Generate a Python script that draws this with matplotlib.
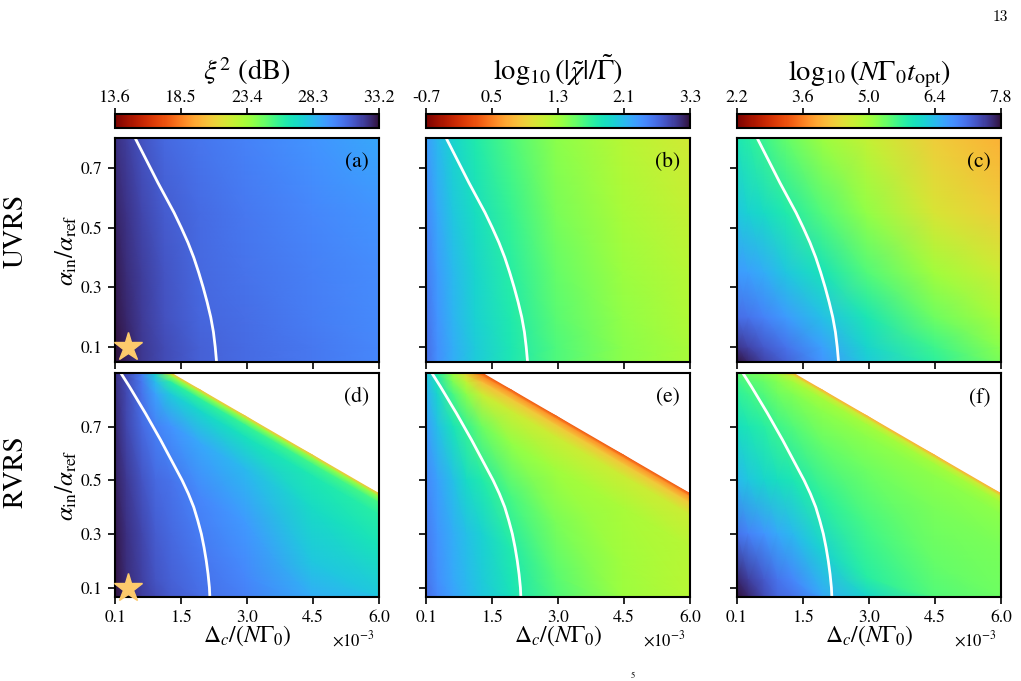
import numpy as np
import matplotlib.pyplot as plt
from matplotlib.colors import Normalize
from matplotlib.cm import ScalarMappable

plt.rcParams['font.family'] = 'STIXGeneral'
plt.rcParams['mathtext.fontset'] = 'stix'

# ---- axes -----------------------------------------------------------------
x_lim = (0.1, 6.0)
x_tick_labels = ['0.1', '1.5', '3.0', '4.5', '6.0']
y_ticks = [0.1, 0.3, 0.5, 0.7]
ylim_uvrs = (0.05, 0.8)
ylim_rvrs = (0.065, 0.9)

# ---- colour scales --------------------------------------------------------
cbar_titles = [r'$\xi^2$ (dB)',
               r'$\log_{10}(|\tilde{\chi}|/\tilde{\Gamma})$',
               r'$\log_{10}(N\Gamma_0 t_{\rm opt})$']
cbar_ranges = [(13.6, 33.2), (-0.7, 3.3), (2.2, 7.8)]
cbar_tick_labels = [['13.6', '18.5', '23.4', '28.3', '33.2'],
                    ['-0.7', '0.5', '1.3', '2.1', '3.3'],
                    ['2.2', '3.6', '5.0', '6.4', '7.8']]

# ---- UVRS (top row): values on an x / y node grid, rows = y ascending ----
uvrs_x = [0.1, 0.35, 0.7, 1.2, 2.0, 3.0, 4.5, 6.0]
uvrs_y = [0.05, 0.1, 0.2, 0.35, 0.55, 0.8]

xi2_uvrs = [
    [33.2, 32.8, 32.2, 31.6, 31.0, 30.7, 30.3, 29.9],
    [33.2, 32.8, 32.2, 31.6, 31.0, 30.7, 30.3, 29.9],
    [33.0, 32.6, 32.1, 31.5, 30.9, 30.6, 30.2, 29.8],
    [32.9, 32.5, 32.0, 31.4, 30.8, 30.5, 30.1, 29.7],
    [32.7, 32.3, 31.8, 31.2, 30.7, 30.3, 29.9, 29.5],
    [32.4, 32.0, 31.4, 30.8, 30.4, 30.0, 29.5, 28.9],
]
chi_uvrs = [
    [2.78, 2.58, 2.38, 2.18, 1.94, 1.66, 1.42, 1.26],
    [2.78, 2.58, 2.38, 2.18, 1.94, 1.66, 1.42, 1.26],
    [2.74, 2.54, 2.34, 2.14, 1.90, 1.62, 1.38, 1.22],
    [2.70, 2.50, 2.30, 2.10, 1.86, 1.58, 1.34, 1.18],
    [2.62, 2.42, 2.22, 2.02, 1.78, 1.50, 1.26, 1.10],
    [2.50, 2.30, 2.10, 1.90, 1.66, 1.42, 1.18, 1.02],
]
topt_uvrs = [
    [7.80, 7.63, 7.41, 7.18, 6.74, 6.23, 5.73, 5.28],
    [7.52, 7.41, 7.24, 7.02, 6.62, 6.12, 5.62, 5.17],
    [7.07, 7.02, 6.90, 6.68, 6.34, 5.90, 5.34, 4.94],
    [6.68, 6.62, 6.51, 6.29, 5.95, 5.50, 5.00, 4.66],
    [6.29, 6.18, 6.06, 5.84, 5.50, 5.11, 4.55, 4.27],
    [5.90, 5.78, 5.62, 5.39, 5.06, 4.72, 4.27, 3.99],
]

# ---- RVRS (bottom row): values at depth below the stability edge ----------
rvrs_x = [0.1, 0.35, 0.7, 1.0, 1.35, 2.0, 3.0, 4.5, 6.0]
rvrs_depth = [0.0, 0.012, 0.035, 0.08, 0.2, 0.4, 0.6, 0.77, 0.835]

xi2_rvrs = [
    [32.4, 31.6, 30.0, 27.3, 20.5, 20.5, 20.5, 20.5, 20.5],
    [32.4, 31.6, 30.1, 27.7, 23.8, 23.8, 23.8, 23.8, 23.8],
    [32.4, 31.6, 30.3, 28.3, 26.1, 26.0, 25.8, 25.6, 25.4],
    [32.5, 31.7, 30.5, 29.1, 27.7, 27.3, 26.9, 26.5, 26.1],
    [32.6, 31.8, 30.8, 30.1, 29.5, 28.9, 28.3, 27.1, 26.7],
    [32.8, 32.2, 31.4, 30.8, 30.5, 29.9, 29.3, 27.9, 27.9],
    [33.0, 32.4, 31.8, 31.2, 30.8, 30.3, 29.9, 28.7, 28.1],
    [33.1, 32.5, 31.9, 31.4, 31.0, 30.6, 30.1, 28.7, 28.1],
    [33.2, 32.6, 32.0, 31.6, 31.2, 30.8, 30.1, 28.7, 28.1],
]
chi_rvrs = [
    [2.22, 1.86, 1.30, 0.82, 0.10, 0.10, 0.10, 0.10, 0.10],
    [2.26, 1.90, 1.38, 0.94, 0.34, 0.42, 0.42, 0.42, 0.42],
    [2.30, 1.98, 1.50, 1.14, 0.66, 0.74, 0.74, 0.74, 0.74],
    [2.38, 2.10, 1.70, 1.42, 1.06, 1.06, 1.06, 1.06, 1.06],
    [2.50, 2.26, 1.98, 1.78, 1.54, 1.38, 1.30, 1.26, 1.18],
    [2.62, 2.46, 2.26, 2.06, 1.90, 1.70, 1.50, 1.30, 1.18],
    [2.70, 2.54, 2.38, 2.26, 2.14, 1.90, 1.62, 1.34, 1.18],
    [2.74, 2.58, 2.42, 2.30, 2.18, 1.98, 1.66, 1.34, 1.18],
    [2.78, 2.62, 2.46, 2.34, 2.22, 2.02, 1.66, 1.34, 1.18],
]
topt_rvrs = [
    [5.45, 5.34, 5.22, 5.00, 3.99, 3.99, 3.99, 3.99, 3.99],
    [5.50, 5.39, 5.28, 5.11, 4.66, 4.66, 4.66, 4.66, 4.66],
    [5.62, 5.50, 5.39, 5.22, 5.00, 5.00, 5.00, 5.00, 5.00],
    [5.73, 5.62, 5.50, 5.34, 5.22, 5.17, 5.17, 5.17, 5.17],
    [6.01, 5.90, 5.78, 5.62, 5.50, 5.39, 5.34, 5.28, 5.28],
    [6.40, 6.29, 6.12, 6.01, 5.90, 5.73, 5.56, 5.39, 5.34],
    [7.02, 6.90, 6.74, 6.57, 6.40, 6.18, 5.78, 5.50, 5.34],
    [7.63, 7.46, 7.24, 7.02, 6.85, 6.57, 6.12, 5.56, 5.34],
    [7.80, 7.63, 7.35, 7.13, 7.02, 6.68, 6.12, 5.62, 5.34],
]

# stability edge of RVRS (white region above it)
edge_x = [1.35, 6.0]
edge_y = [0.9, 0.45]

# white contour lines
contour_uvrs_y = [0.8, 0.75, 0.7, 0.65, 0.6, 0.55, 0.5, 0.45, 0.4, 0.35,
                  0.3, 0.25, 0.2, 0.15, 0.1, 0.05]
contour_uvrs_x = [0.55, 0.72, 0.89, 1.06, 1.24, 1.42, 1.58, 1.73, 1.86, 1.97,
                  2.07, 2.16, 2.24, 2.30, 2.34, 2.37]
contour_rvrs_y = [0.9, 0.85, 0.8, 0.75, 0.7, 0.65, 0.6, 0.55, 0.5, 0.45,
                  0.4, 0.35, 0.3, 0.25, 0.2, 0.15, 0.1, 0.065]
contour_rvrs_x = [0.23, 0.42, 0.6, 0.78, 0.95, 1.12, 1.28, 1.44, 1.6, 1.74,
                  1.86, 1.95, 2.03, 2.09, 2.14, 2.18, 2.21, 2.22]

# marked working point
star_x, star_y = 0.4, 0.1

panel_letters = [['(a)', '(b)', '(c)'], ['(d)', '(e)', '(f)']]
row_names = ['UVRS', 'RVRS']

W, H = 1021, 681
fig = plt.figure(figsize=(W / 100, H / 100), dpi=100)

col_left = [115, 426, 737]
col_width = 264
row_top = [138, 373]
row_height = 224


def px_rect(left, top, width, height):
    return [left / W, 1 - (top + height) / H, width / W, height / H]


cmap = plt.get_cmap('turbo_r')

# RVRS mesh follows the stability edge
rx = np.array(rvrs_x)
rd = np.array(rvrs_depth)
r_top = np.interp(rx, edge_x, edge_y)
RX = np.tile(rx, (len(rd), 1))
RY = np.maximum(r_top[None, :] - rd[:, None], ylim_rvrs[0])

UX, UY = np.meshgrid(uvrs_x, uvrs_y)

fields = [[xi2_uvrs, chi_uvrs, topt_uvrs], [xi2_rvrs, chi_rvrs, topt_rvrs]]
contours = [(contour_uvrs_x, contour_uvrs_y), (contour_rvrs_x, contour_rvrs_y)]

for r in range(2):
    for c in range(3):
        ax = fig.add_axes(px_rect(col_left[c], row_top[r], col_width, row_height))
        vmin, vmax = cbar_ranges[c]
        if r == 0:
            ax.pcolormesh(UX, UY, np.array(fields[r][c]), cmap=cmap,
                          vmin=vmin, vmax=vmax, shading='gouraud', rasterized=True)
            ax.set_ylim(*ylim_uvrs)
        else:
            ax.pcolormesh(RX, RY, np.array(fields[r][c]), cmap=cmap,
                          vmin=vmin, vmax=vmax, shading='gouraud', rasterized=True)
            ax.set_ylim(*ylim_rvrs)
        ax.set_xlim(*x_lim)

        ax.plot(contours[r][0], contours[r][1], color='white', lw=2)
        if c == 0:
            ax.plot(star_x, star_y, marker='*', ms=21, color='#fdca6c',
                    mec='#fdca6c', clip_on=False, zorder=5)

        ax.text(0.962, 0.935, panel_letters[r][c], transform=ax.transAxes,
                ha='right', va='top', fontsize=15.5)

        ax.set_xticks(np.linspace(x_lim[0], x_lim[1], 5))
        ax.set_yticks(y_ticks)
        ax.tick_params(direction='out', length=5, width=1.2, labelsize=12.5, pad=4)
        for sp in ax.spines.values():
            sp.set_linewidth(1.5)

        if r == 1:
            ax.set_xticklabels(x_tick_labels)
            ax.set_xlabel(r'$\Delta_c/(N\Gamma_0)$', fontsize=17)
            ax.xaxis.set_label_coords(0.5, -0.12)
            ax.text(0.985, -0.19, r'$\times10^{-3}$', transform=ax.transAxes,
                    ha='right', va='center', fontsize=12)
        else:
            ax.set_xticklabels([])
        if c == 0:
            ax.set_yticklabels([f'{v:.1f}' for v in y_ticks])
            ax.set_ylabel(r'$\alpha_{\rm in}/\alpha_{\rm ref}$', fontsize=18)
            ax.yaxis.set_label_coords(-0.135, 0.5)
        else:
            ax.set_yticklabels([])

# colour bars on top
for c in range(3):
    cax = fig.add_axes(px_rect(col_left[c], 114, col_width, 14))
    vmin, vmax = cbar_ranges[c]
    sm = ScalarMappable(norm=Normalize(vmin, vmax), cmap=cmap)
    cb = fig.colorbar(sm, cax=cax, orientation='horizontal')
    cb.outline.set_linewidth(1.5)
    cax.xaxis.set_ticks_position('top')
    cb.set_ticks(np.linspace(vmin, vmax, 5))
    cb.set_ticklabels(cbar_tick_labels[c])
    cax.tick_params(length=4, width=1.2, labelsize=13, pad=2)
    fig.text((col_left[c] + col_width / 2) / W, 1 - 80 / H, cbar_titles[c],
             ha='center', va='baseline', fontsize=20.5)

# row names
fig.text(16 / W, 1 - 231 / H, row_names[0], rotation=90, ha='center',
         va='center', fontsize=20)
fig.text(16 / W, 1 - 472 / H, row_names[1], rotation=90, ha='center',
         va='center', fontsize=20)

# page number and clipped text fragment
fig.text(1000 / W, 1 - 17 / H, '13', family='cmr10', fontsize=11,
         ha='center', va='center')
fig.text(633 / W, 0.001, '5', fontsize=6, ha='center', va='bottom')

fig.savefig('out.png', dpi=100)
